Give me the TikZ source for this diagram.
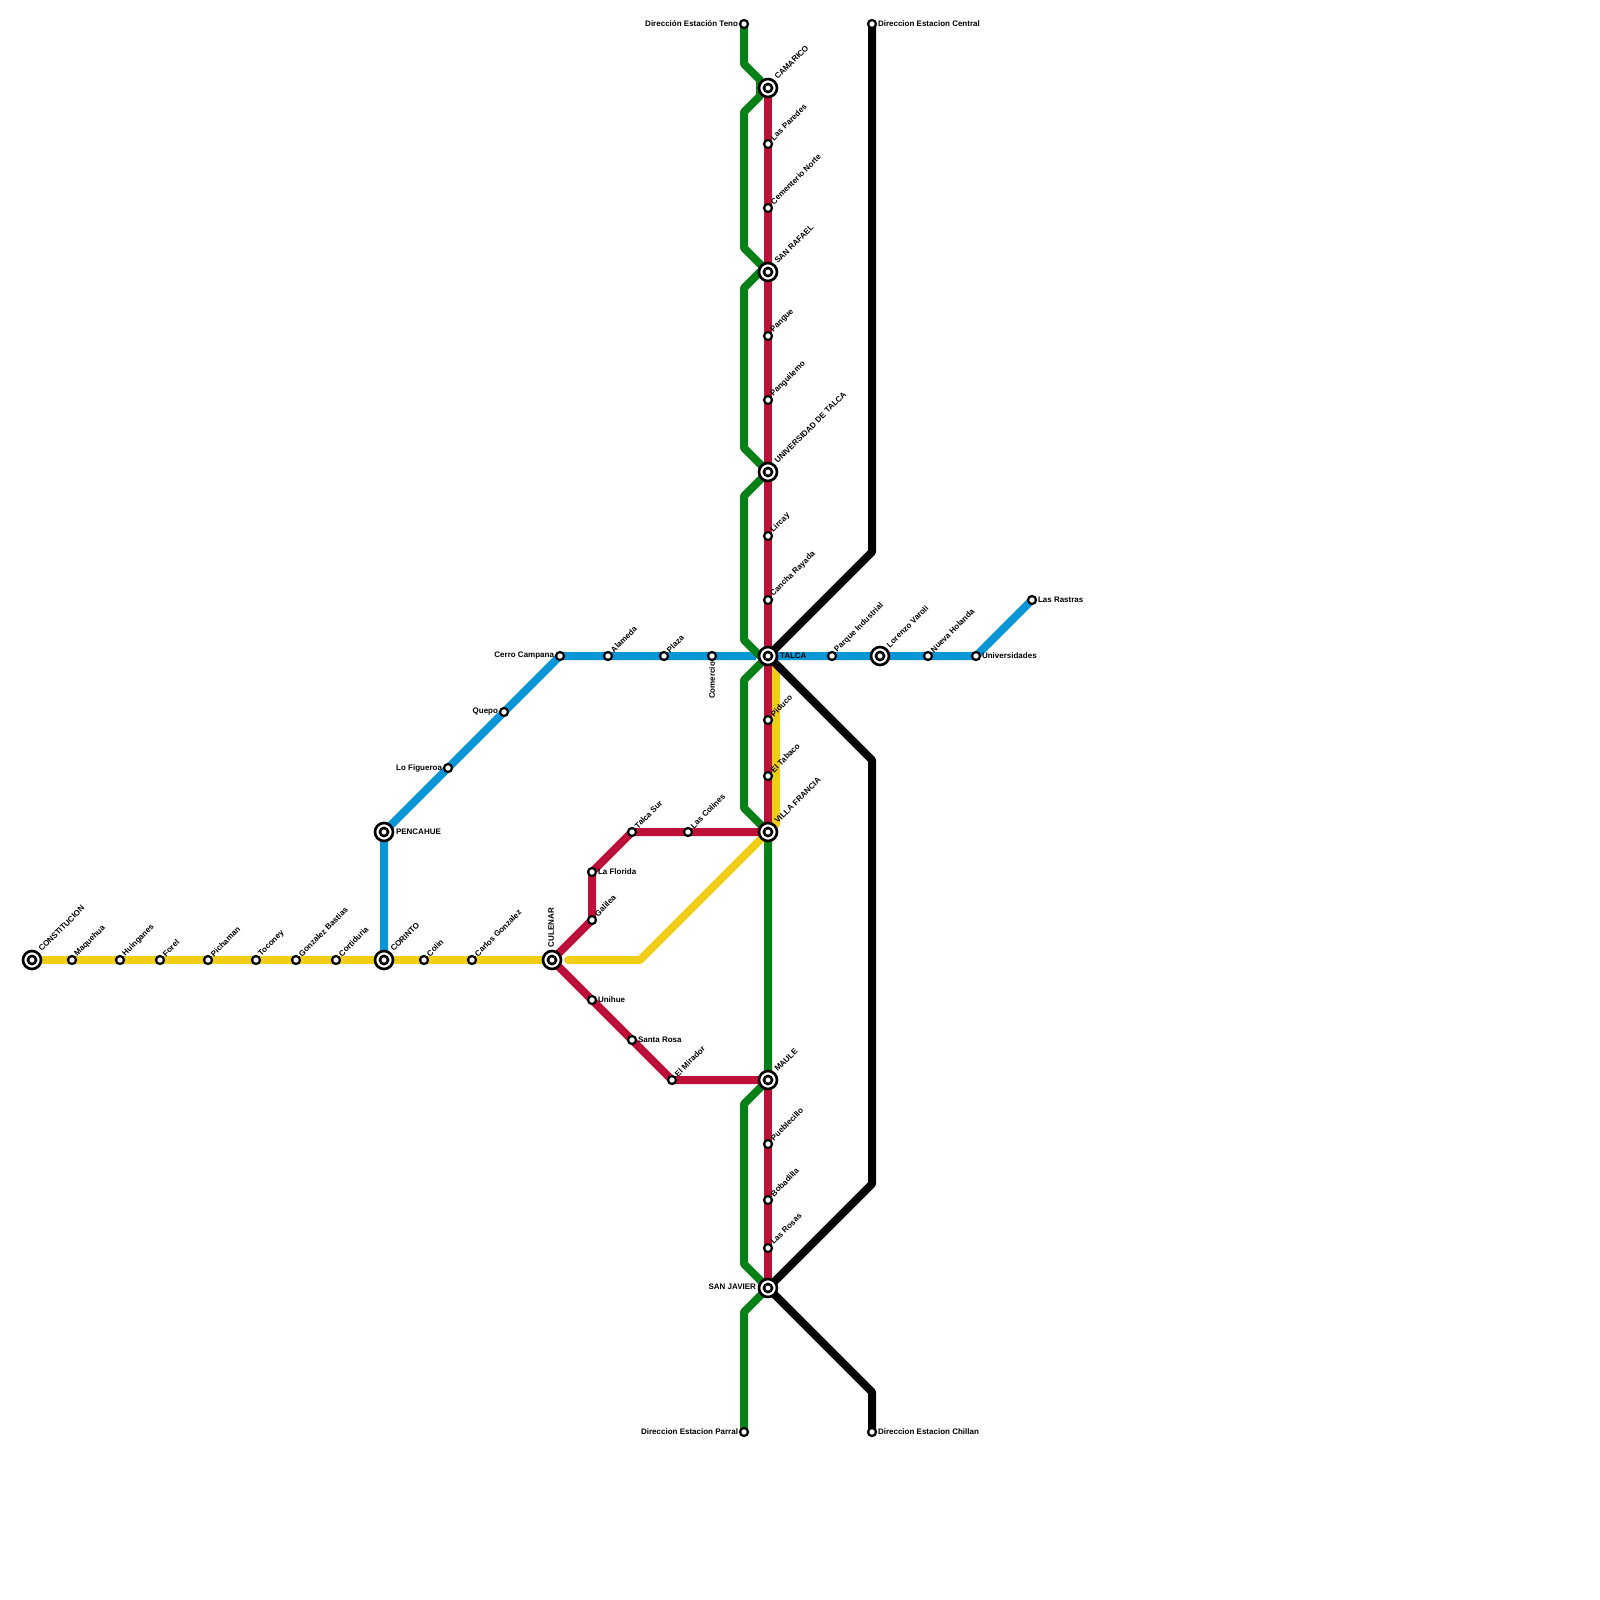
\documentclass[tikz,border=0pt]{standalone}
\usepackage{fontspec}
\setmainfont{Liberation Sans}
\definecolor{myel}{HTML}{F0CE15}
\definecolor{mblu}{HTML}{0896D7}
\definecolor{mred}{HTML}{BD1038}
\definecolor{mgre}{HTML}{078017}
\tikzset{
  mline/.style={line width=4pt,line join=round},
  sm/.style={circle,draw=black,fill=white,line width=1.1pt,minimum size=4pt,inner sep=0pt,outer sep=0pt},
  big/.style={circle,draw=black,fill=white,line width=1.3pt,minimum size=9pt,inner sep=0pt,outer sep=0pt,
    path picture={\draw[line width=1.3pt] (path picture bounding box.center) circle (2pt);}},
  txt/.style={inner sep=0pt,outer sep=0pt,font=\fontsize{4}{5}\selectfont\bfseries,text=black},
  dg/.style={txt,rotate=45,anchor=west},
  rt/.style={txt,anchor=west},
  lf/.style={txt,anchor=east},
  up/.style={txt,rotate=90,anchor=west},
  dn/.style={txt,rotate=90,anchor=east},
}
% small / big station with diagonal label
\newcommand{\sdg}[4]{\node[sm] (#1) at (#2,#3) {}; \node[dg] (#1l) at (#2+4,#3-5) {#4};}
\newcommand{\bdg}[4]{\node[big] (#1) at (#2,#3) {}; \node[dg] (#1l) at (#2+8,#3-10) {#4};}
\begin{document}
\begin{tikzpicture}[x=0.5pt,y=-0.5pt]
\useasboundingbox (0,0) rectangle (1600,1600);
\fill[white] (0,0) rectangle (1600,1600);

\coordinate (constitucion) at (32,960);
\coordinate (corinto) at (384,960);
\coordinate (culenar) at (552,960);
\coordinate (pencahue) at (384,832);
\coordinate (cerro) at (560,656);
\coordinate (talca) at (768,656);
\coordinate (univ) at (976,656);
\coordinate (rastras) at (1032,600);
\coordinate (villa) at (768,832);
\coordinate (maule) at (768,1080);
\coordinate (sanjavier) at (768,1288);
\coordinate (camarico) at (768,88);
\coordinate (sanrafael) at (768,272);
\coordinate (utalca) at (768,472);
\coordinate (galilea) at (592,920);
\coordinate (florida) at (592,872);
\coordinate (talcasur) at (632,832);
\coordinate (mirador) at (672,1080);
\coordinate (teno) at (744,24);
\coordinate (parral) at (744,1432);
\coordinate (central) at (872,24);
\coordinate (chillan) at (872,1432);
\coordinate (yb1) at (640,960);
\coordinate (yb2) at (568,960);
\coordinate (yt1) at (776,664);
\coordinate (yt2) at (776,824);
\coordinate (bl1) at (756,656);
\coordinate (g1) at (744,64);
\coordinate (g1a) at (760,80);
\coordinate (g1b) at (760,96);
\coordinate (g2) at (744,112);
\coordinate (g3) at (744,248);
\coordinate (g3a) at (760,272);
\coordinate (g4) at (744,288);
\coordinate (g5) at (744,448);
\coordinate (g6) at (744,496);
\coordinate (g7) at (744,640);
\coordinate (g7a) at (760,656);
\coordinate (g8) at (744,680);
\coordinate (g9) at (744,808);
\coordinate (g10) at (744,1104);
\coordinate (g11) at (744,1264);
\coordinate (g12) at (744,1312);
\coordinate (k1) at (872,552);
\coordinate (k2) at (872,760);
\coordinate (k3) at (872,1184);
\coordinate (k4) at (872,1392);

% lines
\draw[mline,myel] (constitucion) -- (culenar);
\draw[mline,myel,line cap=round] (yb2) -- (yb1) -- (villa) -- (yt2) -- (yt1);
\draw[mline,mblu] (corinto) -- (pencahue) -- (cerro) -- (bl1);
\draw[mline,mblu] (talca) -- (univ) -- (rastras);
\draw[mline,mgre] (teno) -- (g1) -- (g1a) -- (g1b) -- (g2) -- (g3) -- (sanrafael) -- (g3a) -- (g4) -- (g5) -- (utalca) -- (g6) -- (g7) -- (g7a) -- (talca) -- (g8) -- (g9) -- (villa) -- (maule) -- (g10) -- (g11) -- (sanjavier) -- (g12) -- (parral);
\draw[mline,mred] (camarico) -- (villa);
\draw[mline,mred] (maule) -- (sanjavier);
\draw[mline,mred] (culenar) -- (galilea) -- (florida) -- (talcasur) -- (villa);
\draw[mline,mred] (culenar) -- (mirador) -- (maule);
\draw[mline,black] (central) -- (k1) -- (talca) -- (k2) -- (k3) -- (sanjavier) -- (k4) -- (chillan);

% yellow line stations
\bdg{nconstitucion}{32}{960}{CONSTITUCION}
\sdg{maquehua}{72}{960}{Maquehua}
\sdg{huinganes}{120}{960}{Huinganes}
\sdg{forel}{160}{960}{Forel}
\sdg{pichaman}{208}{960}{Pichaman}
\sdg{toconey}{256}{960}{Toconey}
\sdg{gonzalez}{296}{960}{Gonzalez Bastias}
\sdg{cortiduria}{336}{960}{Cortiduria}
\bdg{ncorinto}{384}{960}{CORINTO}
\sdg{colin}{424}{960}{Colin}
\sdg{carlos}{472}{960}{Carlos Gonzalez}
\node[big] (nculenar) at (552,960) {};
\node[up] (nculenarl) at (551,947) {CULENAR};

% blue line stations
\node[big] (npencahue) at (384,832) {};
\node[rt] (npencahuel) at (396,832) {PENCAHUE};
\node[sm] (figueroa) at (448,768) {};
\node[lf] (figueroal) at (442,768) {Lo Figueroa};
\node[sm] (quepo) at (504,712) {};
\node[lf] (quepol) at (498,712) {Quepo};
\node[sm] (ncerro) at (560,656) {};
\node[lf] (ncerrol) at (554,656) {Cerro Campana};
\sdg{alameda}{608}{656}{Alameda}
\sdg{plaza}{664}{656}{Plaza}
\node[sm] (comercio) at (712,656) {};
\node[dn] (comerciol) at (712,662) {Comercio};
\node[big] (ntalca) at (768,656) {};
\node[rt] (ntalcal) at (780,656) {TALCA};
\sdg{parque}{832}{656}{Parque Industrial}
\bdg{lorenzo}{880}{656}{Lorenzo Varoli}
\sdg{holanda}{928}{656}{Nueva Holanda}
\node[sm] (nuniv) at (976,656) {};
\node[rt] (nunivl) at (982,656) {Universidades};
\node[sm] (nrastras) at (1032,600) {};
\node[rt] (nrastrasl) at (1038,600) {Las Rastras};

% red line stations
\bdg{ncamarico}{768}{88}{CAMARICO}
\sdg{paredes}{768}{144}{Las Paredes}
\sdg{cementerio}{768}{208}{Cementerio Norte}
\bdg{nsanrafael}{768}{272}{SAN RAFAEL}
\sdg{pangue}{768}{336}{Pangue}
\sdg{panguilemo}{768}{400}{Panguilemo}
\bdg{nutalca}{768}{472}{UNIVERSIDAD DE TALCA}
\sdg{lircay}{768}{536}{Lircay}
\sdg{cancha}{768}{600}{Cancha Rayada}
\sdg{piduco}{768}{720}{Piduco}
\sdg{tabaco}{768}{776}{El Tabaco}
\bdg{nvilla}{768}{832}{VILLA FRANCIA}
\bdg{nmaule}{768}{1080}{MAULE}
\sdg{pueblecillo}{768}{1144}{Pueblecillo}
\sdg{bobadilla}{768}{1200}{Bobadilla}
\sdg{rosas}{768}{1248}{Las Rosas}
\node[big] (nsanjavier) at (768,1288) {};
\node[lf] (nsanjavierl) at (756,1287) {SAN JAVIER};
\sdg{ntalcasur}{632}{832}{Talca Sur}
\sdg{colines}{688}{832}{Las Colines}
\node[sm] (nflorida) at (592,872) {};
\node[rt] (nfloridal) at (598,872) {La Florida};
\sdg{ngalilea}{592}{920}{Galilea}
\node[sm] (unihue) at (592,1000) {};
\node[rt] (unihuel) at (598,1000) {Unihue};
\node[sm] (santarosa) at (632,1040) {};
\node[rt] (santarosal) at (638,1040) {Santa Rosa};
\sdg{nmirador}{672}{1080}{El Mirador}

% termini
\node[sm] (nteno) at (744,24) {};
\node[lf] (ntenol) at (738,24) {Dirección Estación Teno};
\node[sm] (nparral) at (744,1432) {};
\node[lf] (nparrall) at (738,1432) {Direccion Estacion Parral};
\node[sm] (ncentral) at (872,24) {};
\node[rt] (ncentrall) at (878,24) {Direccion Estacion Central};
\node[sm] (nchillan) at (872,1432) {};
\node[rt] (nchillanl) at (878,1432) {Direccion Estacion Chillan};
\end{tikzpicture}
\end{document}
